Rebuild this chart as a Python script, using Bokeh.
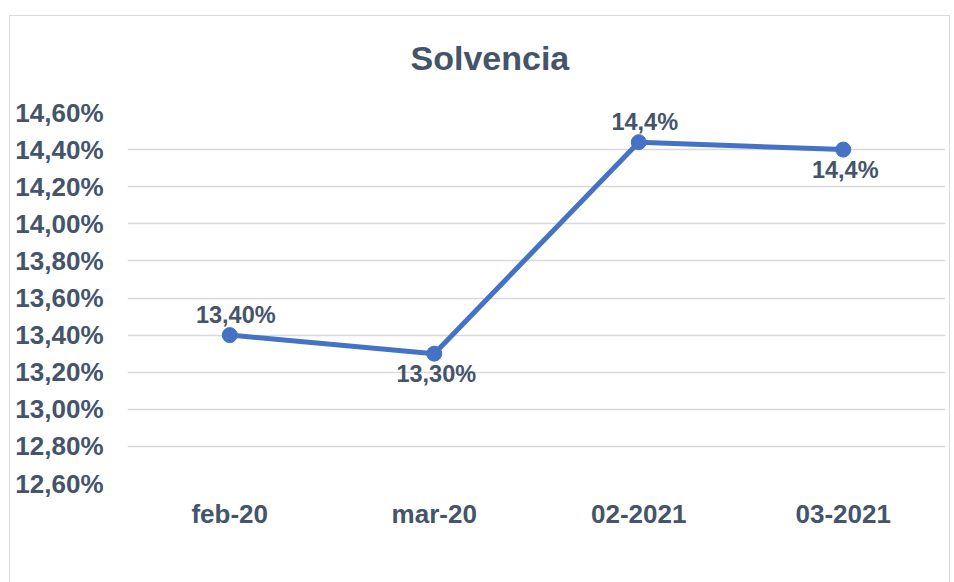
from bokeh.plotting import figure
from bokeh.models import (FactorRange, Range1d, FixedTicker, CustomJSTickFormatter,
                          ColumnDataSource)
from bokeh.core.properties import value
from bokeh.embed import file_html
from bokeh.resources import INLINE

# ---- data ----
title_text = "Solvencia"
categories = ["feb-20", "mar-20", "02-2021", "03-2021"]
solvencia = [13.40, 13.30, 14.44, 14.40]
data_labels = ["13,40%", "13,30%", "14,4%", "14,4%"]
label_above = [True, False, True, False]
y_ticks = [12.6, 12.8, 13.0, 13.2, 13.4, 13.6, 13.8, 14.0, 14.2, 14.4, 14.6]

TEXT = "#44546A"
LINE = "#4472C4"
GRID = "#D9D9D9"
FONT = "Liberation Sans"

# light chart-area border drawn behind a transparent canvas
g = "linear-gradient(#D9D9D9,#D9D9D9)"
border_css = (f"{g} 9px 15px / 941px 1px no-repeat, "
              f"{g} 9px 15px / 1px 600px no-repeat, "
              f"{g} 949px 15px / 1px 600px no-repeat, white")

p = figure(width=954, height=582, x_range=FactorRange(*categories, range_padding=0),
           y_range=Range1d(y_ticks[0], y_ticks[-1]),
           output_backend="svg", toolbar_location=None,
           min_border_left=127, min_border_right=9, min_border_top=112, min_border_bottom=99,
           styles={"background": border_css})
p.outline_line_color = None
p.background_fill_alpha = 0
p.border_fill_alpha = 0

# title
p.title.text = title_text
p.title.align = "left"
p.title.offset = 283
p.title.standoff = 72
p.title.text_font = FONT
p.title.text_font_style = "bold"
p.title.text_font_size = "34px"
p.title.text_color = TEXT

# axes
p.yaxis.ticker = FixedTicker(ticks=y_ticks)
p.yaxis.formatter = CustomJSTickFormatter(code="return tick.toFixed(2).replace('.', ',') + '%';")
for ax in (p.xaxis, p.yaxis):
    ax.axis_line_color = None
    ax.major_tick_line_color = None
    ax.minor_tick_line_color = None
    ax.major_tick_in = 0
    ax.major_tick_out = 0
    ax.major_label_text_font = FONT
    ax.major_label_text_font_style = "bold"
    ax.major_label_text_font_size = "26px"
    ax.major_label_text_color = TEXT
p.yaxis.major_label_standoff = 24
p.xaxis.major_label_standoff = 15

p.xgrid.grid_line_color = None
p.ygrid.grid_line_color = GRID
p.ygrid.grid_line_width = 1.5

src = ColumnDataSource(dict(x=categories, y=solvencia, lab=data_labels))
p.line("x", "y", source=src, line_color=LINE, line_width=5)
p.scatter("x", "y", source=src, size=15, fill_color=LINE, line_color=LINE)

above = ColumnDataSource(dict(
    x=[c for c, a in zip(categories, label_above) if a],
    y=[v for v, a in zip(solvencia, label_above) if a],
    lab=[t for t, a in zip(data_labels, label_above) if a]))
below = ColumnDataSource(dict(
    x=[c for c, a in zip(categories, label_above) if not a],
    y=[v for v, a in zip(solvencia, label_above) if not a],
    lab=[t for t, a in zip(data_labels, label_above) if not a]))

common = dict(text="lab", text_align="center", text_font=value(FONT),
              text_font_style="bold", text_font_size="23.5px", text_color=TEXT)
p.text("x", "y", source=above, text_baseline="alphabetic", y_offset=-20, x_offset=6, **common)
p.text("x", "y", source=below, text_baseline="top", y_offset=7, x_offset=2, **common)

open("out.html", "w").write(file_html(p, INLINE))
